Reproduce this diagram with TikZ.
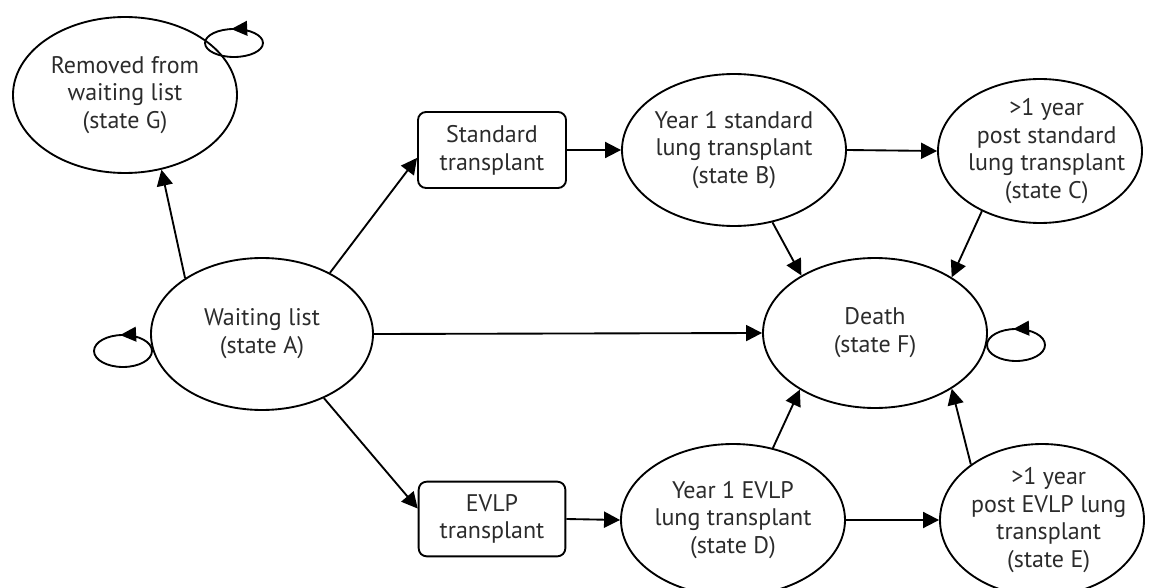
\documentclass[tikz,border=0pt]{standalone}
\usepackage{fontspec}
\setmainfont{PT Sans}
\usetikzlibrary{shapes.geometric,arrows.meta,calc,decorations.markings}
\definecolor{txtgray}{HTML}{2B2B2B}
\tikzset{
  txt/.style={align=center, text=txtgray, font=\fontsize{18}{20.8}\selectfont},
  state/.style={ellipse, draw, line width=1.4pt, inner sep=0pt},
  tbox/.style={rectangle, rounded corners=6pt, draw, line width=1.4pt,
    minimum width=111pt, minimum height=57pt, inner sep=0pt, txt},
  arr/.style={-{Triangle[length=12pt,width=12pt]}, line width=1.4pt},
  selfloop/.style={line width=1.4pt, postaction={decorate},
    decoration={markings, mark=at position 0.27 with {\arrow{Triangle[length=12pt,width=11pt]}}}},
}
\begin{document}
\begin{tikzpicture}[x=0.75pt, y=-0.75pt]
\useasboundingbox (0,0) rectangle (1153,588);

% states
\node[state, minimum width=168pt, minimum height=117pt,
  label={[txt]center:Removed from\\waiting list\\(state G)}] (G) at (125,95) {};
\node[state, minimum width=166.5pt, minimum height=114pt,
  label={[txt]center:Waiting list\\(state A)}] (A) at (262,334) {};
\node[state, minimum width=168pt, minimum height=114pt,
  label={[txt]center:Year 1 standard\\lung transplant\\(state B)}] (B) at (734,150) {};
\node[state, minimum width=153pt, minimum height=108pt,
  label={[txt, xshift=5pt]center:>1 year\\post standard\\lung transplant\\(state C)}] (C) at (1040,151) {};
\node[state, minimum width=168pt, minimum height=112.5pt,
  label={[txt]center:Death\\(state F)}] (F) at (875,333) {};
\node[state, minimum width=168pt, minimum height=114pt,
  label={[txt]center:Year 1 EVLP\\lung transplant\\(state D)}] (D) at (733,520) {};
\node[state, minimum width=153pt, minimum height=114pt,
  label={[txt, xshift=5pt]center:>1 year\\post EVLP lung\\transplant\\(state E)}] (E) at (1042,520) {};

% transplant events
\node[tbox] (std) at (492,150) {Standard\\transplant};
\node[tbox, minimum width=110pt, minimum height=56pt] (evlp) at (492,519) {EVLP\\transplant};

% transitions
\draw[arr] (A.144) -- (G.-64);
\draw[arr] (A.42) -- (std.186);
\draw[arr] (A.-46) -- (evlp.172);
\draw[arr] (A.east) -- (F.west);
\draw[arr] (std.east) -- (B.west);
\draw[arr] (B.east) -- (C.west);
\draw[arr] (evlp.east) -- (D.west);
\draw[arr] (D.east) -- (E.west);
\draw[arr] (B.-62) -- (F.142);
\draw[arr] (C.-134) -- (F.36);
\draw[arr] (D.61) -- (F.-143);
\draw[arr] (E.142) -- (F.-36);

% staying in the same state
\draw[selfloop] ($(G.center)+(109,-52)$) ellipse [x radius=21.75pt, y radius=10.5pt];
\draw[selfloop] ($(A.center)+(-139,17)$) ellipse [x radius=21.75pt, y radius=12pt];
\draw[selfloop] ($(F.center)+(141,12)$) ellipse [x radius=21.75pt, y radius=12pt];
\end{tikzpicture}
\end{document}
